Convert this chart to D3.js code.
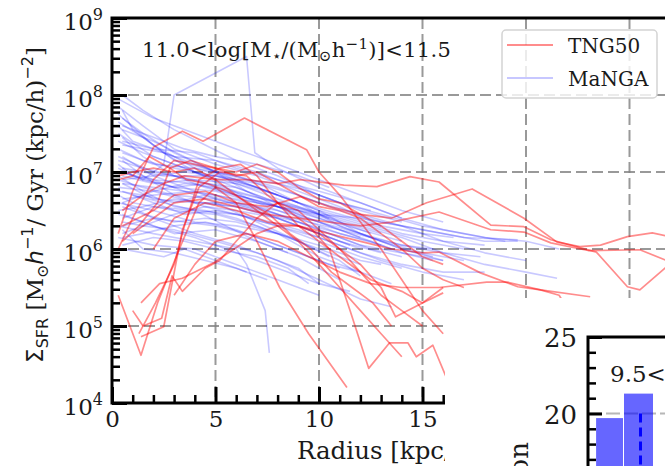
<!DOCTYPE html>
<html><head><meta charset="utf-8">
<script src="https://cdn.jsdelivr.net/npm/d3@7"></script>
<style>
body{margin:0;background:#fff}
svg{display:block}
text{font-family:"DejaVu Serif",serif;fill:#1a1a1a}
</style>
</head><body>
<svg id="c" width="665" height="466"></svg>
<script>
// ---------- DATA (radius in kpc, value as log10 Sigma_SFR) ----------
const seriesNames = ["TNG50", "MaNGA"];
const xMajorTicks = [0, 5, 10, 15, 20, 25, 30];
const xLabelledTicks = [0, 5, 10, 15];
const xMinorTicks = [1,2,3,4,6,7,8,9,11,12,13,14,16,17,18,19,21,22,23,24,26,27,28,29];
const yMajorExps = [4, 5, 6, 7, 8, 9];
const yGridExps = [5, 6, 7, 8];

const tngProfiles = [
  [[0.3,6.2],[1.0,6.75],[2.0,7.32],[3.4,7.53],[4.4,7.40],[6.4,7.70],[9.4,7.29],[10.0,7.0],[11.0,6.7],[12.0,6.35],[13.0,6.0],[14.0,5.6],[15.0,5.2],[16.0,4.9]],
  [[0.3,6.9],[1,6.95],[1.8,7.2],[2.8,7.05],[3.8,7.15],[5,7.05],[6,7.0],[7,7.1],[8,7.0],[9,6.8],[10,6.65],[11,6.6],[12,6.45],[13,6.3],[14,6.1],[15,5.9],[16,5.8]],
  [[0.3,5.4],[1.4,4.62],[2.2,5.3],[3.3,6.03],[4.2,6.6],[5,6.8],[6,6.6],[7,6.1],[8.1,5.5],[9.5,4.9],[11.35,4.2]],
  [[1.4,4.86],[2.5,4.99],[3.4,6.25],[4.2,6.8],[5.2,7.0],[6.5,6.95],[7.5,6.7],[8.5,6.5],[9.5,6.3],[10.5,6.0],[11.5,5.2],[12.4,4.45],[13.4,4.78],[14.3,4.78],[14.7,4.6],[15.5,4.75],[16.2,4.3]],
  [[1.0,5.2],[1.5,5.0],[2.4,5.1],[2.9,5.65],[3.4,5.45],[4.5,5.75],[5.2,5.85],[6,6.1],[7,6.4],[8,6.6],[9,6.5],[10,6.25],[11,6.0],[12,5.7],[13,5.4],[14,5.2],[15,5.0]],
  [[1.4,5.3],[2.3,5.55],[3.4,5.62],[4.9,5.82],[5.9,6.0],[7,6.2],[8,6.3],[9,6.3],[10,6.2],[11,6.0],[12,5.8],[13,5.5],[13.7,5.12],[15,5.3],[16,5.43]],
  [[0.3,6.0],[1,6.4],[2,6.9],[3,7.15],[4,7.1],[5,7.05],[6,6.95],[7,7.0],[8,6.85],[9,6.7],[10,6.55],[11,6.5],[12,6.4],[13,6.2],[14,6.0],[15,5.75],[16,5.6],[17,5.5]],
  [[0.5,6.1],[1.3,6.3],[2.2,6.6],[2.8,7.05],[3.6,6.9],[4.6,6.85],[5.6,6.75],[6.6,6.6],[7.6,6.45],[8.6,6.2],[9.6,6.0],[10.6,5.7],[11.6,5.5],[12.6,5.3],[13.5,5.0]],
  [[0.5,6.5],[1.5,6.7],[2.5,6.85],[3.5,6.95],[5,6.9],[6.5,6.9],[8,6.85],[9.1,6.9],[11.2,6.83],[12.8,6.81],[14.4,6.94],[15.8,6.87],[18.3,6.31],[19.9,6.29],[21.2,6.12],[23.4,5.96],[24.9,5.51],[25.5,5.47],[26.8,5.77],[28,5.9]],
  [[0.5,6.3],[2,6.5],[3,6.7],[4.5,6.75],[6,6.6],[7.5,6.55],[9.1,6.68],[10.5,6.55],[12,6.45],[13.5,6.4],[15.2,6.6],[17.4,6.78],[19.9,6.40],[21.5,6.09],[22.6,6.03],[23.6,6.05],[24.9,6.16],[26.1,6.21],[28,6.1]],
  [[1,6.2],[2,6.4],[3,6.6],[4.5,6.65],[6,6.55],[7.5,6.45],[9,6.4],[10.5,6.35],[12,6.3],[13.5,6.35],[15.8,6.48],[18.3,6.25],[19.9,6.22],[21.2,6.08],[23,5.98],[25.5,5.99],[26.8,5.85]],
  [[2,6.0],[3,6.4],[4.5,6.6],[6,6.5],[7.5,6.35],[9,6.3],[10.5,6.2],[12,6.1],[13.5,6.0],[15,5.95],[15.8,5.96],[17.8,5.69],[19.6,5.51],[20.7,5.47],[21.6,5.40],[22.5,5.0]],
  [[3,5.4],[4,5.8],[5,6.1],[6.5,6.2],[8,6.1],[9.5,5.9],[11,5.7],[12.5,5.55],[14,5.5],[15.8,5.5],[18.1,5.57],[19.1,5.57],[20.7,5.47],[23.1,5.38]],
  [[0.3,6.95],[1,7.0],[2,7.05],[3,7.0],[4,7.05],[5,6.9],[6,6.7],[7,6.5],[8,6.3],[9,6.1],[10,5.8],[11,5.5],[12,5.2],[13,4.9],[14,4.6]],
  [[1.3,4.9],[2.1,5.3],[3.0,5.8],[3.5,6.3],[4.2,6.9],[5.2,7.05],[6.2,7.1],[7,6.95],[8,6.6],[9,6.3],[10,6.1],[11,5.9],[12.5,5.6],[14,5.45],[15,5.3],[16,5.5]]
];

const mangaProfiles = [
  [[0.3,7.95],[2,7.7],[4,7.5],[6,7.3],[8,7.1],[10,6.9],[12,6.7],[14,6.5],[16,6.35]],
  [[0.3,7.85],[1.5,7.6],[3,7.3],[5,7.1],[7,6.95],[9,6.75],[11,6.55],[13,6.3]],
  [[0.3,7.75],[2,7.35],[4,7.05],[6,6.9],[8,6.7],[10,6.5],[12,6.2],[14,6.0],[15.5,5.9]],
  [[0.3,7.6],[1,7.4],[3,7.2],[5,7.15],[7,7.0],[9,6.8],[11,6.6],[13,6.45],[15,6.3],[17,6.2],[19,6.1]],
  [[0.3,7.5],[2,7.2],[4,7.0],[6,6.8],[8,6.6],[10,6.4],[12,6.25],[14,6.1]],
  [[0.3,7.3],[1.5,7.15],[3,7.05],[5,6.95],[7,6.8],[9,6.6],[11,6.3],[13,6.1],[15,5.95],[17,5.85]],
  [[0.3,7.2],[2,7.0],[4,6.9],[6,6.85],[8,6.7],[10,6.5],[12,6.35],[14,6.2],[16,6.1],[18,6.05]],
  [[0.3,7.1],[1,6.95],[3,6.8],[5,6.75],[7,6.6],[9,6.5],[11,6.35],[13,6.2]],
  [[0.3,7.0],[2,6.9],[4,6.85],[6,6.7],[8,6.55],[10,6.4],[12,6.2],[14,6.0],[16,5.85]],
  [[0.3,6.9],[1.5,6.8],[3,6.7],[5,6.65],[7,6.5],[9,6.3],[11,6.1],[13,5.95]],
  [[0.3,6.8],[2,6.75],[4,6.6],[6,6.55],[8,6.4],[10,6.2],[12,6.0]],
  [[0.3,6.7],[1,6.6],[3,6.5],[5,6.45],[7,6.3],[9,6.1],[10.5,5.9]],
  [[0.3,6.6],[2,6.5],[4,6.35],[6,6.3],[8,6.2],[10,5.9],[12,5.7],[13.5,5.55]],
  [[0.3,6.45],[1.5,6.35],[3,6.2],[5,6.25],[7,6.1],[9,5.9],[11,5.6]],
  [[0.3,6.3],[2,6.2],[4,6.1],[6,6.0],[6.5,5.8],[7.4,5.2],[7.6,4.65]],
  [[0.3,6.15],[2,6.05],[4,6.0],[6,5.8],[8,5.6],[10,5.4]],
  [[0.5,7.4],[2,7.3],[4,7.25],[6,7.05],[8,6.9],[10,6.75],[12,6.6],[14,6.4],[16,6.25],[18,6.15],[20,6.1],[21.6,6.0]],
  [[0.5,7.05],[2.5,6.95],[5,6.95],[7,6.85],[9,6.7],[11,6.5],[13,6.35],[15,6.25],[17,6.15],[19.6,6.12]],
  [[0.5,6.95],[2,6.85],[4,6.9],[6,6.75],[8,6.6],[10,6.45],[12,6.3],[14,6.15],[16,5.95],[18,5.8],[20,5.7],[21.5,5.62]],
  [[0.5,7.0],[1.5,6.9],[2.5,7.1],[3.0,8.0],[6.5,8.5],[6.9,7.25],[8,7.05],[10,6.8],[12,6.6],[14,6.4]],
  [[0.5,6.85],[2,6.65],[4,6.6],[6,6.6],[8,6.5],[10,6.35],[12,6.2],[14,6.05],[16,5.95],[17.8,5.9]],
  [[0.5,6.75],[2,6.6],[3.5,6.45],[5,6.5],[7,6.4],[9,6.25],[11,6.05],[13,5.85],[15,5.7],[17,5.6]],
  [[0.5,7.6],[2,7.45],[3.5,7.3],[5,7.2],[7,7.1],[9,6.95],[10.5,6.8]],
  [[0.5,8.0],[1.5,7.8],[3,7.55],[4.5,7.35],[6,7.15],[8,6.95],[10,6.7],[12,6.5],[14,6.35]],
  [[0.5,7.45],[1.5,7.2],[3,6.95],[4.5,6.8],[6,6.7],[8,6.55],[10,6.35],[12,6.15]],
  [[0.5,7.15],[1.5,6.95],[3,6.7],[4.5,6.55],[6,6.45],[8,6.3],[10,6.1],[12,5.9],[14,5.75]],
  [[0.5,6.55],[1.5,6.45],[3,6.35],[4.5,6.4],[6,6.35],[8,6.2],[10,6.05],[12,5.85],[13,5.8]],
  [[0.5,6.2],[1.5,6.3],[3,6.25],[5,6.1],[7,5.95],[9,5.75],[10,5.55]],
  [[0.5,6.9],[2,6.95],[3.5,7.0],[5,6.95],[7,6.8],[9,6.6],[11,6.45],[13,6.3],[15,6.2],[16.5,6.15]],
  [[0.5,7.25],[2,7.1],[4,7.05],[6,6.95],[8,6.8],[10,6.6],[12,6.45],[14,6.3],[16,6.1],[18,5.95],[20,5.85]],
  [[0.5,6.4],[2,6.55],[4,6.5],[6,6.45],[8,6.3],[10,6.15],[12,5.95],[14,5.8],[16,5.7],[18,5.7]],
  [[1,7.0],[3,6.8],[5,6.6],[7,6.35],[9,6.1],[11,5.85],[12,5.65]],
  [[0.5,7.7],[1.5,7.5],[3,7.25],[5,7.0],[6.5,6.85],[8,6.7]],
  [[0.5,6.05],[2,6.15],[3.5,6.1],[5,6.0],[7,5.9],[8.5,5.75],[9.5,5.55]],
  [[0.5,6.65],[2,6.7],[4,6.75],[6,6.65],[8,6.55],[10,6.45],[12,6.4],[14,6.3],[16,6.2],[18,6.1],[19.6,6.1]],
  [[1,6.7],[2.5,6.6],[4,6.5],[5.5,6.3],[7,6.1],[8.5,5.95]],
  [[0.5,7.35],[2.5,7.25],[4,7.1],[5,7.0],[6.5,6.9],[8,6.85],[9.5,6.75],[11,6.6],[12.5,6.5]],
  [[0.5,6.35],[1.5,6.3],[3,6.45],[4.5,6.55],[6,6.5],[8,6.4],[10,6.2],[11.5,6.05]],
  [[0.5,7.8],[1,7.55],[2.5,7.25],[4,7.0],[5.5,6.8],[7,6.6],[8.5,6.45]],
  [[0.5,6.25],[1.5,6.0],[3,5.95],[4.5,5.85],[6,5.75],[7.5,5.6]],
  [[0.5,6.6],[2,6.4],[4,6.2],[6,6.05],[8,5.85],[10,5.6],[12,5.35],[13.5,5.25]],
  [[0.5,6.45],[2,6.3],[4,6.15],[6,5.95],[8,5.75],[10,5.55],[11.5,5.45]],
  [[0.5,7.55],[2,7.4],[3.5,7.2],[5,7.0],[6.5,6.75],[8,6.55],[9.5,6.35],[11,6.2],[12.5,6.1],[14,5.95],[15.5,5.85]],
  [[0.5,6.0],[1.5,5.95],[2.5,5.9],[3.5,6.0],[5,5.85],[6.5,5.7]],
  [[0.3,7.05],[1.5,6.9],[3,6.8],[4.5,6.85],[6,6.7],[7.5,6.6],[9,6.45],[10.5,6.3],[12,6.15],[13.5,6.0]],
  [[0.3,6.75],[1.5,6.7],[3,6.6],[4.5,6.7],[6,6.6],[7.5,6.5],[9,6.35],[10.5,6.2],[12,6.05],[14,5.95],[16,5.85]],
  [[0.3,6.95],[1.5,6.75],[3,6.55],[4.5,6.5],[6,6.4],[7.5,6.25],[9,6.1],[10.5,5.95],[12,5.8]],
  [[0.3,7.15],[1.5,7.05],[3,6.95],[4.5,6.85],[6,6.8],[7.5,6.65],[9,6.55],[11,6.4],[13,6.25],[15,6.1],[17,6.0]],
  [[0.3,6.5],[1.5,6.55],[3,6.65],[4.5,6.6],[6,6.55],[7.5,6.45],[9,6.35],[11,6.2],[13,6.05]],
  [[0.3,7.4],[1.5,7.25],[3,7.1],[4.5,6.95],[6,6.85],[7.5,6.7],[9,6.55],[10.5,6.4]],
  [[0.5,6.85],[2,6.8],[3.5,6.75],[5,6.7],[6.5,6.6],[8,6.45],[9.5,6.3],[11,6.15],[12.5,6.0],[14,5.9]],
  [[0.5,6.3],[2,6.4],[3.5,6.35],[5,6.3],[6.5,6.2],[8,6.05],[9.5,5.9],[11,5.75]],
  [[0.5,7.2],[2,6.95],[3.5,6.8],[5,6.65],[6.5,6.55],[8,6.45],[9.5,6.35],[11,6.25],[12.5,6.15],[14,6.05],[15.5,6.0]],
  [[0.5,6.6],[2,6.75],[3.5,6.85],[5,6.8],[6.5,6.7],[8,6.6],[9.5,6.5],[11,6.35],[12.5,6.2]],
  [[0.3,7.65],[1.5,7.45],[3,7.15],[4.5,7.05],[6,6.95],[7.5,6.8],[9,6.6]],
  [[0.5,6.15],[1.5,6.2],[3,6.3],[4.5,6.35],[6,6.25],[7.5,6.1],[9,5.95],[10.5,5.8],[12,5.7]]
];

// second (partially visible) panel: histogram
const histTitle = "9.5<";
const histYLabel = "Fraction";
const histBinEdges = [0.27, 1.2, 2.2];
const histCounts = [19.7, 21.3];
const histMedian = 1.75;
const histYMajor = [20, 25];
const histYMinor = [16, 17, 18, 19, 21, 22, 23, 24];

// ---------- DRAWING ----------
const W = 665, H = 466;
const svg = d3.select("#c");
svg.append("rect").attr("width", W).attr("height", H).attr("fill", "#fff");

const L = 112, T = 18, B = 403;
const x = d3.scaleLinear().domain([0, 30]).range([L, L + 30 * 20.7]);
const y = d3.scaleLog().domain([1e4, 1e9]).range([B, T]);

const defs = svg.append("defs");
defs.append("clipPath").attr("id", "clipMain")
  .append("rect").attr("x", L).attr("y", T).attr("width", W - L).attr("height", B - T);

const plot = svg.append("g").attr("clip-path", "url(#clipMain)");
const gridStyle = sel => sel.attr("stroke", "#808080").attr("stroke-opacity", 0.8)
  .attr("stroke-width", 2).attr("stroke-dasharray", "11,5");

plot.selectAll("line.gx").data(xMajorTicks.filter(d => d > 0)).join("line").attr("class", "gx")
  .attr("x1", d => x(d)).attr("x2", d => x(d)).attr("y1", T).attr("y2", B).call(gridStyle);
plot.selectAll("line.gy").data(yGridExps).join("line").attr("class", "gy")
  .attr("x1", L).attr("x2", W).attr("y1", d => y(Math.pow(10, d))).attr("y2", d => y(Math.pow(10, d))).call(gridStyle);

const lineGen = d3.line().x(d => x(d[0])).y(d => y(Math.pow(10, d[1])));
plot.selectAll("path.manga").data(mangaProfiles).join("path").attr("class", "manga")
  .attr("d", lineGen).attr("fill", "none").attr("stroke", "blue")
  .attr("stroke-opacity", 0.21).attr("stroke-width", 1.6).attr("stroke-linejoin", "round");
plot.selectAll("path.tng").data(tngProfiles).join("path").attr("class", "tng")
  .attr("d", lineGen).attr("fill", "none").attr("stroke", "red")
  .attr("stroke-opacity", 0.45).attr("stroke-width", 1.7).attr("stroke-linejoin", "round");

// axes (ticks pointing inward)
const noDomain = g => g.select(".domain").remove();
svg.append("g").attr("transform", `translate(0,${B})`)
  .call(d3.axisBottom(x).tickValues(xMinorTicks).tickSize(-8).tickFormat(""))
  .call(noDomain).call(g => g.selectAll("line").attr("stroke", "#000").attr("stroke-width", 2.5));
const xAx = svg.append("g").attr("transform", `translate(0,${B})`)
  .call(d3.axisBottom(x).tickValues(xMajorTicks).tickSize(-16).tickPadding(8)
    .tickFormat(d => xLabelledTicks.includes(d) ? d3.format("d")(d) : ""))
  .call(noDomain);
xAx.selectAll("line").attr("stroke", "#000").attr("stroke-width", 3);
xAx.selectAll("text").attr("font-size", 23).attr("font-family", "DejaVu Serif").attr("fill", "#1a1a1a");
xAx.selectAll("text").filter(function () { return this.textContent === ""; }).remove();

const yMinor = [];
for (let e = 4; e < 9; e++) for (let k = 2; k <= 9; k++) yMinor.push(k * Math.pow(10, e));
svg.append("g").attr("transform", `translate(${L},0)`)
  .call(d3.axisLeft(y).tickValues(yMinor).tickSize(-8).tickFormat(""))
  .call(noDomain).call(g => g.selectAll("line").attr("stroke", "#000").attr("stroke-width", 2.5));
const yAx = svg.append("g").attr("transform", `translate(${L},0)`)
  .call(d3.axisLeft(y).tickValues(yMajorExps.map(e => Math.pow(10, e))).tickSize(-15).tickFormat(""))
  .call(noDomain);
yAx.selectAll("line").attr("stroke", "#000").attr("stroke-width", 3);
yAx.selectAll("text").remove();
yAx.selectAll(".tick").each(function (d) {
  const t = d3.select(this).append("text").attr("x", -9).attr("y", 11)
    .attr("text-anchor", "end").attr("font-size", 23).attr("fill", "#1a1a1a");
  t.append("tspan").text("10");
  t.append("tspan").attr("font-size", 16).attr("dy", -10).text(String(Math.round(Math.log10(d))));
});

// spines
svg.append("path").attr("d", `M${L},${B}H${W}M${L},${B}V${T}H${W}`)
  .attr("fill", "none").attr("stroke", "#000").attr("stroke-width", 3).attr("stroke-linecap", "square");

// axis labels
svg.append("text").attr("x", 297).attr("y", 459).attr("font-size", 24.5).text("Radius [kpc/h]");
const yl = svg.append("text").attr("transform", "translate(43,205) rotate(-90)")
  .attr("text-anchor", "middle").attr("font-size", 23);
yl.append("tspan").attr("font-family", "DejaVu Sans").text("\u03A3");
yl.append("tspan").attr("font-family", "DejaVu Sans").attr("font-size", 16).attr("dy", 5).text("SFR");
yl.append("tspan").attr("dy", -5).text(" [M");
yl.append("tspan").attr("font-size", 16).attr("dy", 5).text("\u2299");
yl.append("tspan").attr("dy", -5).attr("font-family", "DejaVu Sans").attr("font-style", "italic").text("h");
yl.append("tspan").attr("font-family", "DejaVu Sans").attr("font-size", 16).attr("dy", -10).text("\u22121");
yl.append("tspan").attr("dy", 10).text("/ Gyr (kpc/h)");
yl.append("tspan").attr("font-family", "DejaVu Sans").attr("font-size", 16).attr("dy", -10).text("\u22122");
yl.append("tspan").attr("dy", 10).text("]");

// panel title
const tt = svg.append("text").attr("x", 142).attr("y", 57).attr("font-size", 21).attr("letter-spacing", 0.3);
tt.append("tspan").text("11.0<log[M");
tt.append("tspan").attr("font-size", 15).attr("dy", 4).text("\u22C6");
tt.append("tspan").attr("dy", -4).text("/(M");
tt.append("tspan").attr("font-size", 15).attr("dy", 4).text("\u2299");
tt.append("tspan").attr("dy", -4).text("h");
tt.append("tspan").attr("font-size", 15).attr("dy", -8).text("\u22121");
tt.append("tspan").attr("dy", 8).text(")]<11.5");

// legend
const lg = svg.append("g");
lg.append("rect").attr("x", 502).attr("y", 30).attr("width", 155).attr("height", 68).attr("rx", 4)
  .attr("fill", "#fff").attr("fill-opacity", 0.8).attr("stroke", "#d4d4d4").attr("stroke-width", 1.5);
const legendColors = ["red", "blue"], legendOps = [0.45, 0.22];
seriesNames.forEach((n, i) => {
  const yy = 45 + i * 33;
  lg.append("line").attr("x1", 507).attr("x2", 553).attr("y1", yy).attr("y2", yy)
    .attr("stroke", legendColors[i]).attr("stroke-opacity", legendOps[i]).attr("stroke-width", 2);
  lg.append("text").attr("x", 568).attr("y", yy + 8).attr("font-size", 20).text(n);
});

// ---------- overlapping second figure ----------
svg.append("rect").attr("x", 445).attr("y", 298).attr("width", W - 445).attr("height", H - 298).attr("fill", "#fff");
const L2 = 588, T2 = 337;
const y2 = d3.scaleLinear().domain([0, 25]).range([T2 + 25 * 15.3, T2]);
const x2 = d3.scaleLinear().domain([0, 10]).range([L2, L2 + 300]);
const p2 = svg.append("g");
p2.append("line").attr("x1", L2).attr("x2", W).attr("y1", y2(20)).attr("y2", y2(20))
  .attr("stroke", "#999").attr("stroke-opacity", 0.7).attr("stroke-width", 2).attr("stroke-dasharray", "14,4");
p2.selectAll("rect.bar").data(histCounts).join("rect").attr("class", "bar")
  .attr("x", (d, i) => x2(histBinEdges[i]))
  .attr("width", (d, i) => x2(histBinEdges[i + 1]) - x2(histBinEdges[i]) - 1)
  .attr("y", d => y2(d)).attr("height", d => y2(0) - y2(d))
  .attr("fill", "blue").attr("fill-opacity", 0.6);
p2.append("line").attr("x1", x2(histMedian)).attr("x2", x2(histMedian)).attr("y1", y2(20)).attr("y2", H)
  .attr("stroke", "blue").attr("stroke-width", 3).attr("stroke-dasharray", "9,5");
p2.append("g").attr("transform", `translate(${L2},0)`)
  .call(d3.axisLeft(y2).tickValues(histYMinor).tickSize(-8).tickFormat(""))
  .call(noDomain).call(g => g.selectAll("line").attr("stroke", "#000").attr("stroke-width", 2.5));
const y2Ax = p2.append("g").attr("transform", `translate(${L2},0)`)
  .call(d3.axisLeft(y2).tickValues(histYMajor).tickSize(-14).tickPadding(11).tickFormat(d3.format("d")))
  .call(noDomain);
y2Ax.selectAll("line").attr("stroke", "#000").attr("stroke-width", 3);
y2Ax.selectAll("text").attr("font-size", 26).attr("font-family", "DejaVu Serif").attr("fill", "#1a1a1a").attr("dy", "0.38em");
p2.append("path").attr("d", `M${L2},${H}V${T2}H${W}`).attr("fill", "none")
  .attr("stroke", "#000").attr("stroke-width", 3).attr("stroke-linecap", "square");
p2.append("text").attr("x", 610).attr("y", 382).attr("font-size", 23).text(histTitle);
p2.append("text").attr("transform", "translate(528,442) rotate(-90)").attr("text-anchor", "end")
  .attr("font-size", 26).text(histYLabel);
</script>
</body></html>
